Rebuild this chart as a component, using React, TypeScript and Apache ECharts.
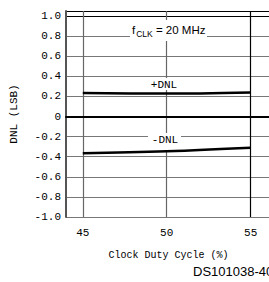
import React, { useEffect, useRef } from "react";
import * as echarts from "echarts";

const dutyCycle = [45, 50, 55];
const posDnl = [0.235, 0.228, 0.24];
const negDnl = [-0.365, -0.345, -0.31];
const xTickValues = [45, 50, 55];
const annotationTexts = { clk: "20 MHz", pos: "+DNL", neg: "-DNL", code: "DS101038-40" };

const MONO = "'Liberation Mono', 'DejaVu Sans Mono', monospace";
const SANS = "'Liberation Sans', Arial, sans-serif";

const X_MIN = 44;
const X_MAX = 58;

export default function App() {
  const ref = useRef<HTMLDivElement>(null);
  useEffect(() => {
    if (!ref.current) return;
    const chart = echarts.init(ref.current, undefined, { renderer: "svg" });
    const ySplitColors: string[] = [];
    for (let i = 0; i < 12; i++) ySplitColors.push(i >= 10 ? "#000" : "#777");
    const xSplitColors: string[] = [];
    for (let v = X_MIN; v <= X_MAX; v++) {
      if (xTickValues.indexOf(v) < 0) xSplitColors.push("rgba(0,0,0,0)");
      else xSplitColors.push(v === xTickValues[xTickValues.length - 1] ? "#000" : "#666");
    }
    chart.setOption({
      animation: false,
      backgroundColor: "#fff",
      grid: {
        left: 65,
        top: 11,
        width: 236,
        bottom: 65,
        show: false,
      },
      xAxis: {
        type: "value",
        min: X_MIN,
        max: X_MAX,
        interval: 1,
        axisLine: { show: true, lineStyle: { color: "#000", width: 2 } },
        axisTick: { show: false },
        axisLabel: {
          interval: 0,
          hideOverlap: false,
          color: "#000",
          fontFamily: MONO,
          fontSize: 11,
          margin: 10,
          formatter: (v: number) => (xTickValues.indexOf(Math.round(v)) >= 0 ? String(Math.round(v)) : ""),
        },
        splitLine: { show: true, lineStyle: { color: xSplitColors, width: 1.2 } },
        name: "Clock Duty Cycle (%)",
        nameLocation: "middle",
        nameGap: 33,
        nameTextStyle: { color: "#000", fontFamily: MONO, fontSize: 10, padding: [0, 30, 0, 0] },
      },
      yAxis: {
        type: "value",
        min: -1,
        max: 1.05,
        interval: 0.2,
        axisLine: { show: true, lineStyle: { color: "#555", width: 2 } },
        axisTick: { show: false },
        axisLabel: {
          color: "#000",
          fontFamily: MONO,
          fontSize: 11,
          margin: 5,
          showMaxLabel: false,
          formatter: (v: number) => (Math.abs(v) < 1e-9 ? "0" : v.toFixed(1)),
        },
        splitLine: { show: true, lineStyle: { color: ySplitColors, width: 1.2 } },
        name: "DNL (LSB)",
        nameLocation: "middle",
        nameGap: 47,
        nameTextStyle: { color: "#000", fontFamily: MONO, fontSize: 11 },
      },
      series: [
        {
          type: "line",
          data: dutyCycle.map((x, i) => [x, posDnl[i]]),
          smooth: 0.3,
          symbol: "none",
          lineStyle: { color: "#000", width: 2.5 },
          z: 3,
        },
        {
          type: "line",
          data: dutyCycle.map((x, i) => [x, negDnl[i]]),
          smooth: 0.4,
          symbol: "none",
          lineStyle: { color: "#000", width: 2.5 },
          z: 3,
        },
      ],
      graphic: [
        { type: "rect", z: 1, shape: { x: 130, y: 20, width: 77, height: 21 }, style: { fill: "#fff" } },
        {
          type: "text",
          z: 2,
          x: 132,
          y: 30,
          style: {
            text: "{a|f}{b|CLK}{a| = " + annotationTexts.clk + "}",
            textVerticalAlign: "middle",
            rich: {
              a: { fontFamily: SANS, fontSize: 11.5, fill: "#000" },
              b: { fontFamily: SANS, fontSize: 8.5, fill: "#000", padding: [8, 0, 0, 1] },
            },
          },
        },
        { type: "rect", z: 1, shape: { x: 149, y: 78, width: 30, height: 12 }, style: { fill: "#fff" } },
        {
          type: "text",
          z: 2,
          x: 164,
          y: 85,
          style: {
            text: annotationTexts.pos,
            textAlign: "center",
            textVerticalAlign: "middle",
            fontFamily: MONO,
            fontSize: 11,
            fill: "#000",
          },
        },
        { type: "rect", z: 1, shape: { x: 148, y: 133, width: 33, height: 17 }, style: { fill: "#fff" } },
        {
          type: "text",
          z: 2,
          x: 165,
          y: 140,
          style: {
            text: annotationTexts.neg,
            textAlign: "center",
            textVerticalAlign: "middle",
            fontFamily: MONO,
            fontSize: 11,
            fill: "#000",
          },
        },
        {
          type: "text",
          z: 2,
          x: 193,
          y: 271,
          style: {
            text: annotationTexts.code,
            textVerticalAlign: "middle",
            fontFamily: SANS,
            fontSize: 13,
            fill: "#000",
          },
        },
      ],
    });
    return () => chart.dispose();
  }, []);
  return (
    <div
      style={{
        position: "fixed",
        left: 0,
        top: 0,
        width: 269,
        height: 282,
        overflow: "hidden",
        background: "#fff",
      }}
    >
      <div ref={ref} style={{ width: 320, height: 282 }} />
    </div>
  );
}
